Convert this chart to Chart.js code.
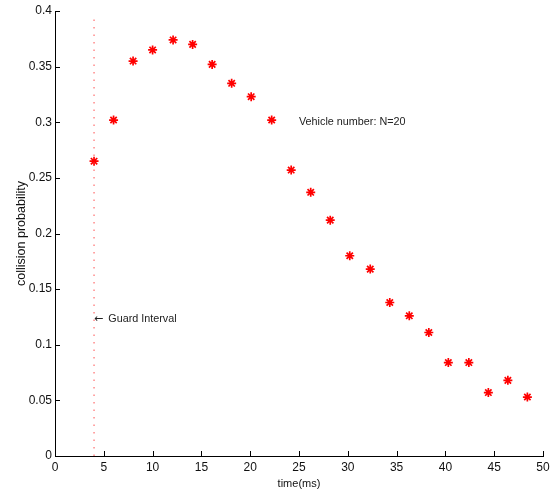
<!DOCTYPE html>
<html>
<head>
<meta charset="utf-8">
<script src="https://cdn.jsdelivr.net/npm/chart.js@4"></script>
<style>
  html, body { margin: 0; padding: 0; background: #fff; }
  #wrap { width: 555px; height: 491px; }
</style>
</head>
<body>
<div id="wrap"><canvas id="c" width="555" height="491"></canvas></div>
<script>
// Collision probability versus time, N = 20 vehicles
const timeMs = [4.0, 6.0, 8.0, 10.0, 12.1, 14.1, 16.1, 18.1, 20.1, 22.2, 24.2, 26.2,
                28.2, 30.2, 32.3, 34.3, 36.3, 38.3, 40.3, 42.4, 44.4, 46.4, 48.4];
const collisionProb = [0.265, 0.302, 0.355, 0.365, 0.374, 0.370, 0.352, 0.335, 0.323, 0.302,
                       0.257, 0.237, 0.212, 0.180, 0.168, 0.138, 0.126, 0.111, 0.084, 0.084,
                       0.057, 0.068, 0.053];
const guardInterval = 4;
const guardLineY = [0, 0.397];
const xTicks = [0, 5, 10, 15, 20, 25, 30, 35, 40, 45, 50];
const yTicks = [0, 0.05, 0.1, 0.15, 0.2, 0.25, 0.3, 0.35, 0.4];
const notes = [
  { x: 25, y: 0.3, arrow: false, text: 'Vehicle number: N=20' },
  { x: 4, y: 0.123, arrow: true, text: 'Guard Interval' }
];

const FONT = '"Liberation Sans", Arial, Helvetica, sans-serif';

// Tick marks drawn inward, plus text notes inside the axes
const innerTicks = {
  id: 'innerTicks',
  afterDraw(chart) {
    const { ctx, chartArea: a, scales: { x, y } } = chart;
    ctx.save();
    ctx.strokeStyle = '#000';
    ctx.lineWidth = 1;
    ctx.beginPath();
    xTicks.forEach(v => {
      const px = Math.round(x.getPixelForValue(v)) + 0.5;
      ctx.moveTo(px, a.bottom);
      ctx.lineTo(px, a.bottom - 5);
    });
    yTicks.forEach(v => {
      const py = Math.round(y.getPixelForValue(v)) + 0.5;
      ctx.moveTo(a.left, py);
      ctx.lineTo(a.left + 5, py);
    });
    ctx.stroke();

    ctx.fillStyle = '#222';
    ctx.textBaseline = 'middle';
    ctx.textAlign = 'left';
    notes.forEach(n => {
      let px = x.getPixelForValue(n.x);
      const py = y.getPixelForValue(n.y);
      if (n.arrow) {
        ctx.font = '11px "DejaVu Sans", sans-serif';
        ctx.fillText('\u2190', px, py);
        px += ctx.measureText('\u2190').width + 5;
      }
      ctx.font = '10.8px ' + FONT;
      ctx.fillText(n.text, px, py);
    });
    ctx.restore();
  }
};

new Chart(document.getElementById('c'), {
  type: 'scatter',
  data: {
    datasets: [
      {
        label: 'guard',
        type: 'line',
        data: guardLineY.map(v => ({ x: guardInterval, y: v })),
        borderColor: 'rgba(255,60,60,0.75)',
        borderWidth: 1.2,
        borderDash: [1.5, 6],
        pointRadius: 0,
        fill: false
      },
      {
        label: 'prob',
        data: timeMs.map((t, i) => ({ x: t, y: collisionProb[i] })),
        pointStyle: 'star',
        pointRadius: 4.5,
        borderColor: '#ff0000',
        backgroundColor: '#ff0000',
        pointBorderWidth: 1.7
      }
    ]
  },
  options: {
    responsive: false,
    animation: false,
    events: [],
    layout: { padding: { top: 11, right: 12, left: 0, bottom: 0 } },
    plugins: { legend: { display: false }, tooltip: { enabled: false } },
    scales: {
      x: {
        type: 'linear',
        min: 0, max: 50,
        afterBuildTicks: s => { s.ticks = xTicks.map(v => ({ value: v })); },
        afterFit: s => { s.height = 35; },
        grid: { display: false, drawTicks: false },
        border: { display: true, color: '#000', width: 1 },
        ticks: { padding: 4, color: '#111', font: { family: FONT, size: 12 }, maxRotation: 0 },
        title: { display: true, text: 'time(ms)', color: '#111', font: { family: FONT, size: 11 }, padding: { top: 1, bottom: 0 } }
      },
      y: {
        type: 'linear',
        min: 0, max: 0.4,
        afterBuildTicks: s => { s.ticks = yTicks.map(v => ({ value: v })); },
        afterFit: s => { s.width = 55; },
        grid: { display: false, drawTicks: false },
        border: { display: true, color: '#000', width: 1 },
        ticks: {
          padding: 3, color: '#111', font: { family: FONT, size: 12 },
          callback: v => String(parseFloat(Number(v).toFixed(2)))
        },
        title: { display: true, text: 'collision probability', color: '#111', font: { family: FONT, size: 12.5 }, padding: { top: 14, bottom: 0 } }
      }
    }
  },
  plugins: [innerTicks]
});
</script>
</body>
</html>
